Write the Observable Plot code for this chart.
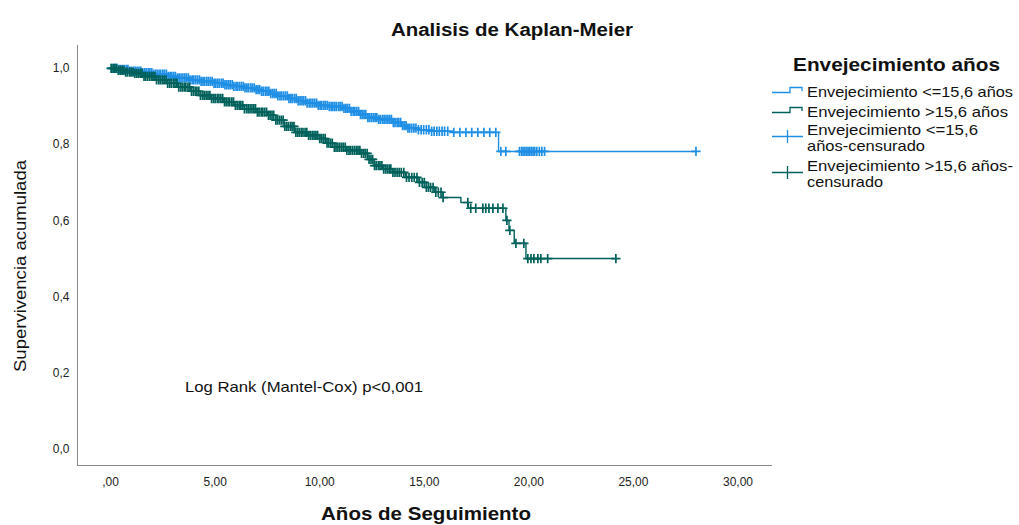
<!DOCTYPE html>
<html><head><meta charset="utf-8">
<script src="https://cdn.jsdelivr.net/npm/d3@7"></script>
<script src="https://cdn.jsdelivr.net/npm/@observablehq/plot@0.6"></script>
<style>
body{margin:0;background:#fff}
#wrap{position:relative;width:1019px;height:525px;overflow:hidden}
#wrap svg{position:absolute;left:0;top:0}
</style>
</head><body><div id="wrap"></div>
<script>
// ---- data ----
const groups = ["Envejecimiento <=15,6 años", "Envejecimiento >15,6 años"];
const colors = ["#1f8fe5", "#00615b"];

// group <=15,6: Kaplan-Meier steps (time, survival)
const lowTime = [0, 0.4, 0.9, 1.5, 2.0, 2.7, 3.2, 3.8, 4.3, 4.9, 5.4, 5.9, 6.4, 6.9, 7.2, 7.6, 8.0, 8.5, 8.9, 9.4, 9.9, 10.4, 11.1, 11.5, 11.9, 12.3, 12.8, 13.5, 13.9, 14.2, 14.7, 15.3, 16.4, 18.55, 28.0];
const lowSurv = [1.000, 0.997, 0.993, 0.989, 0.985, 0.979, 0.975, 0.970, 0.966, 0.961, 0.957, 0.953, 0.949, 0.944, 0.940, 0.934, 0.928, 0.921, 0.915, 0.909, 0.903, 0.900, 0.895, 0.887, 0.879, 0.871, 0.866, 0.858, 0.850, 0.843, 0.839, 0.835, 0.832, 0.782, 0.782];
const lowCensor = [0.05, 0.15, 0.22, 0.3, 0.4, 0.48, 0.57, 0.66, 0.75, 0.83, 0.92, 1.0, 1.1, 1.18, 1.27, 1.36, 1.45, 1.53, 1.62, 1.7, 1.8, 1.88, 1.97, 2.06, 2.15, 2.23, 2.32, 2.4, 2.5, 2.58, 2.67, 2.76, 2.85, 2.93, 3.02, 3.1, 3.2, 3.28, 3.37, 3.46, 3.55, 3.63, 3.72, 3.8, 3.9, 3.98, 4.07, 4.16, 4.25, 4.33, 4.42, 4.5, 4.6, 4.68, 4.77, 4.86, 4.95, 5.03, 5.12, 5.2, 5.3, 5.38, 5.47, 5.56, 5.65, 5.73, 5.82, 5.9, 6.0, 6.08, 6.17, 6.26, 6.35, 6.43, 6.52, 6.6, 6.7, 6.78, 6.87, 6.96, 7.05, 7.13, 7.22, 7.3, 7.4, 7.48, 7.57, 7.66, 7.75, 7.83, 7.92, 8.0, 8.1, 8.18, 8.27, 8.36, 8.45, 8.53, 8.62, 8.7, 8.8, 8.88, 8.97, 9.06, 9.15, 9.23, 9.32, 9.4, 9.5, 9.58, 9.67, 9.76, 9.85, 9.93, 10.02, 10.1, 10.2, 10.28, 10.37, 10.46, 10.55, 10.63, 10.72, 10.8, 10.9, 10.98, 11.07, 11.16, 11.25, 11.33, 11.42, 11.5, 11.6, 11.68, 11.77, 11.86, 11.95, 12.03, 12.12, 12.2, 12.3, 12.38, 12.47, 12.56, 12.65, 12.73, 12.82, 12.9, 13.0, 13.08, 13.17, 13.26, 13.35, 13.43, 13.52, 13.6, 13.7, 13.78, 13.87, 13.96, 14.05, 14.13, 14.22, 14.3, 14.4, 14.5, 14.6, 14.72, 14.85, 14.97, 15.1, 15.22, 15.35, 15.47, 15.6, 15.72, 15.85, 15.97, 16.12, 16.41, 16.70, 16.99, 17.27, 17.56, 17.85, 18.13, 18.42, 18.66, 18.9, 19.55, 19.65, 19.72, 19.8, 19.88, 19.96, 20.04, 20.12, 20.2, 20.28, 20.38, 20.5, 20.62, 20.75, 27.99];

// group >15,6
const highTime = [0, 0.3, 0.7, 1.1, 1.6, 2.2, 2.7, 3.2, 3.8, 4.3, 4.8, 5.4, 5.9, 6.4, 7.0, 7.5, 7.9, 8.3, 8.8, 9.4, 10.0, 10.3, 10.7, 11.3, 12.0, 12.3, 12.6, 13.0, 13.5, 14.1, 14.7, 15.1, 15.5, 15.9, 16.75, 17.1, 18.9, 19.05, 19.3, 19.86, 24.2];
const highSurv = [1.000, 0.995, 0.990, 0.987, 0.979, 0.970, 0.961, 0.951, 0.940, 0.929, 0.921, 0.912, 0.903, 0.894, 0.885, 0.877, 0.864, 0.848, 0.832, 0.824, 0.816, 0.804, 0.793, 0.785, 0.777, 0.761, 0.745, 0.736, 0.727, 0.714, 0.701, 0.688, 0.675, 0.661, 0.648, 0.633, 0.601, 0.575, 0.541, 0.501, 0.501];
const highCensor = [0.03, 0.12, 0.2, 0.28, 0.37, 0.46, 0.55, 0.63, 0.72, 0.8, 0.9, 0.98, 1.07, 1.16, 1.25, 1.33, 1.42, 1.5, 1.6, 1.68, 1.77, 1.86, 1.95, 2.03, 2.12, 2.2, 2.3, 2.38, 2.47, 2.56, 2.65, 2.73, 2.82, 2.9, 3.0, 3.08, 3.17, 3.26, 3.35, 3.43, 3.52, 3.6, 3.7, 3.78, 3.87, 3.96, 4.05, 4.13, 4.22, 4.3, 4.4, 4.48, 4.57, 4.66, 4.75, 4.83, 4.92, 5.0, 5.1, 5.18, 5.27, 5.36, 5.45, 5.53, 5.62, 5.7, 5.8, 5.88, 5.97, 6.06, 6.15, 6.23, 6.32, 6.4, 6.5, 6.58, 6.67, 6.76, 6.85, 6.93, 7.02, 7.1, 7.2, 7.28, 7.37, 7.46, 7.55, 7.63, 7.72, 7.8, 7.9, 7.98, 8.07, 8.16, 8.25, 8.33, 8.42, 8.5, 8.6, 8.68, 8.77, 8.86, 8.95, 9.03, 9.12, 9.2, 9.3, 9.38, 9.47, 9.56, 9.65, 9.73, 9.82, 9.9, 10.0, 10.08, 10.17, 10.26, 10.35, 10.43, 10.52, 10.6, 10.7, 10.78, 10.87, 10.96, 11.05, 11.13, 11.22, 11.3, 11.4, 11.48, 11.57, 11.66, 11.75, 11.83, 11.92, 12.0, 12.1, 12.18, 12.27, 12.36, 12.45, 12.53, 12.62, 12.7, 12.8, 12.88, 12.97, 13.06, 13.15, 13.23, 13.32, 13.4, 13.5, 13.6, 13.7, 13.8, 13.9, 14.02, 14.15, 14.27, 14.4, 14.52, 14.65, 14.77, 14.9, 15.0, 15.1, 15.2, 15.3, 15.42, 15.55, 15.67, 15.8, 15.9, 17.08, 17.22, 17.46, 17.80, 17.94, 18.09, 18.28, 18.52, 18.76, 18.95, 19.09, 19.38, 19.76, 19.95, 20.1, 20.24, 20.43, 20.57, 20.9, 24.16];

const xTicks = [0, 5, 10, 15, 20, 25, 30];
const xTickLabels = [",00", "5,00", "10,00", "15,00", "20,00", "25,00", "30,00"];
const yTicks = [0, 0.2, 0.4, 0.6, 0.8, 1];
const yTickLabels = ["0,0", "0,2", "0,4", "0,6", "0,8", "1,0"];

const titleText = "Analisis de Kaplan-Meier";
const xTitle = "Años de Seguimiento";
const yTitle = "Supervivencia acumulada";
const legendTitle = "Envejecimiento años";
const noteText = "Log Rank (Mantel-Cox) p<0,001";

// ---- build tables ----
function stepValue(times, surv, t) {
  let v = surv[0];
  for (let i = 0; i < times.length; i++) if (times[i] <= t) v = surv[i];
  return v;
}
const series = [
  {g: groups[0], time: lowTime, surv: lowSurv, cens: lowCensor},
  {g: groups[1], time: highTime, surv: highSurv, cens: highCensor}
];
const lineData = series.flatMap(s => s.time.map((t, i) => ({group: s.g, t, s: s.surv[i]})));
const censorData = series.flatMap(s => s.cens.map(t => ({group: s.g, t, s: stepValue(s.time, s.surv, t)})));

const font = "'Liberation Sans', Arial, Helvetica, sans-serif";

const plot = Plot.plot({
  width: 1019, height: 525,
  marginLeft: 77, marginRight: 248, marginTop: 45, marginBottom: 60,
  style: {fontFamily: font, fontSize: "12px", color: "#222", background: "transparent"},
  x: {domain: [-1.58, 31.6]},
  y: {domain: [-0.042, 1.06]},
  color: {domain: groups, range: colors},
  marks: [
    Plot.frame({anchor: "left", stroke: "#8a8a8a"}),
    Plot.frame({anchor: "bottom", stroke: "#8a8a8a"}),
    Plot.axisX({ticks: xTicks, tickSize: 0, tickPadding: 12, label: null,
      tickFormat: d => xTickLabels[xTicks.indexOf(d)]}),
    Plot.axisY({ticks: yTicks, tickSize: 0, tickPadding: 8, label: null,
      tickFormat: d => yTickLabels[yTicks.indexOf(d)]}),
    Plot.line(lineData, {x: "t", y: "s", z: "group", stroke: "group", curve: "step-after", strokeWidth: 1.4}),
    Plot.dot(censorData, {x: "t", y: "s", stroke: "group", symbol: "plus", r: 3.1, strokeWidth: 1.7})
  ]
});
document.getElementById("wrap").appendChild(plot);

// ---- overlay: title, axis titles, note, legend ----
const ov = d3.select("#wrap").append("svg")
  .attr("width", 1019).attr("height", 525)
  .style("font-family", font).style("pointer-events", "none");

function txt(x, y, s, size, weight, len, anchor = "start", rot = 0) {
  const t = ov.append("text").attr("x", x).attr("y", y).text(s)
    .attr("font-size", size).attr("font-weight", weight).attr("fill", "#111")
    .attr("text-anchor", anchor);
  if (len) t.attr("textLength", len).attr("lengthAdjust", "spacingAndGlyphs");
  if (rot) t.attr("transform", `rotate(${rot},${x},${y})`);
  return t;
}
txt(512, 36, titleText, 18, "bold", 242, "middle");
txt(426, 520, xTitle, 18, "bold", 210, "middle");
txt(26, 266, yTitle, 17, "normal", 212, "middle", -90);
txt(185, 392, noteText, 15, "normal", 238);

// legend
txt(793, 71, legendTitle, 19, "bold", 207);
const entries = [
  {lines: ["Envejecimiento <=15,6 años"], lens: [206], base: 97, kind: "step", c: colors[0]},
  {lines: ["Envejecimiento >15,6 años"], lens: [201], base: 117, kind: "step", c: colors[1]},
  {lines: ["Envejecimiento <=15,6", "años-censurado"], lens: [171, 118], base: 135, kind: "plus", c: colors[0]},
  {lines: ["Envejecimiento >15,6 años-", "censurado"], lens: [206, 76], base: 171, kind: "plus", c: colors[1]}
];
entries.forEach(e => {
  e.lines.forEach((l, i) => txt(807, e.base + i * 16, l, 15, "normal", e.lens[i]));
  const yc = e.base - 4.5;
  if (e.kind === "step") {
    ov.append("path").attr("d", `M772,${yc} H790 V${yc - 5} H802 V${yc - 1.5}`)
      .attr("fill", "none").attr("stroke", e.c).attr("stroke-width", 1.3);
  } else {
    const ym = e.base + 1.5;
    ov.append("path").attr("d", `M772,${ym} H803 M787.5,${ym - 6.5} V${ym + 6.5}`)
      .attr("fill", "none").attr("stroke", e.c).attr("stroke-width", 1.3);
  }
});
</script>
</body></html>
